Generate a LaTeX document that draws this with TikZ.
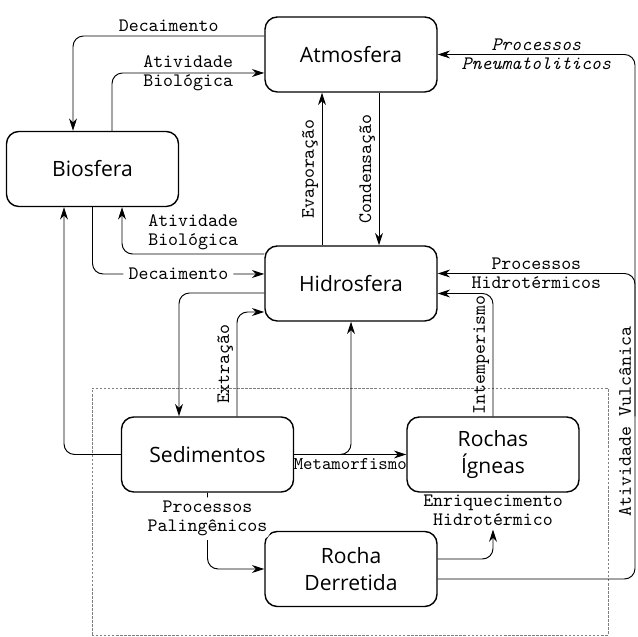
\documentclass[tikz,border=0pt]{standalone}
\usepackage{fontspec}
\setmainfont{Open Sans}
\usetikzlibrary{arrows.meta}
\begin{document}
\begin{tikzpicture}[>={Stealth[length=7pt,width=4.5pt]}, line width=.55pt]
\tikzstyle{caixa}=[draw, line width=.8pt, rounded corners=7pt, minimum width=3.44cm, minimum height=1.5cm, align=center, font=\fontsize{12}{15}\selectfont]
\tikzstyle{rotulo}=[font=\ttfamily\fontsize{10.8}{11}\selectfont, align=center, inner sep=2pt]
\tikzstyle{rotulov}=[rotulo, rotate=90, anchor=south]
\tikzstyle{seta}=[->, rounded corners=6pt]
\useasboundingbox (0,0) rectangle (12.74,12.74);
\draw[gray, line width=.5pt, dash pattern=on 1.5pt off .8pt] (1.84,0.04) rectangle (12.16,4.98);
% reservatorios
\node[caixa] (atm) at (7.02,11.65) {Atmosfera};
\node[caixa] (bio) at (1.85,9.36) {Biosfera};
\node[caixa] (hid) at (7.02,7.07) {Hidrosfera};
\node[caixa] (sed) at (4.15,3.65) {Sedimentos};
\node[caixa] (ign) at (9.86,3.65) {Rochas\\Ígneas};
\node[caixa] (rd) at (7.02,1.36) {Rocha\\Derretida};
% atmosfera e biosfera
\draw[seta] ([yshift=.37cm]atm.west) -| ([xshift=-.39cm]bio.north) node[rotulo, pos=.25, above]{Decaimento};
\draw[seta] ([xshift=.39cm]bio.north) |- ([yshift=-.37cm]atm.west) node[rotulo, pos=.75]{Atividade\\Biológica};
% atmosfera e hidrosfera
\draw[seta] ([xshift=-.58cm]hid.north) -- ([xshift=-.58cm]atm.south) node[rotulov, midway]{Evaporação};
\draw[seta] ([xshift=.56cm]atm.south) -- ([xshift=.56cm]hid.north) node[rotulov, midway]{Condensação};
% biosfera e hidrosfera
\draw[seta] ([yshift=.59cm]hid.west) -| ([xshift=.59cm]bio.south) node[rotulo, pos=.25, above]{Atividade\\Biológica};
\draw[seta] (bio.south) |- ([yshift=.19cm]hid.west) node[rotulo, pos=.75, fill=white, inner xsep=3pt]{Decaimento};
% sedimentos
\draw[seta] (sed.west) -| ([xshift=-.57cm]bio.south);
\draw[seta] ([yshift=-.19cm]hid.west) -| ([xshift=-.57cm]sed.north);
\draw[seta] ([xshift=.59cm]sed.north) |- ([yshift=-.57cm]hid.west) node[rotulov, pos=.25]{Extração};
\draw[seta] (sed.east) -| (hid.south);
\draw[->] (sed.east) -- (ign.west) node[rotulo, midway, below, font=\ttfamily\fontsize{10.2}{11}\selectfont]{Metamorfismo};
\draw[seta] (sed.south) |- (rd.west) node[rotulo, pos=.17, fill=white]{Processos\\Palingênicos};
% rochas
\draw[seta] (ign.north) |- ([yshift=-.2cm]hid.east) node[rotulov, pos=.25]{Intemperismo};
\node[rotulo] (enriq) at (9.86,2.54) {Enriquecimento\\Hidrotérmico};
\draw[seta] ([yshift=.2cm]rd.east) -| (enriq.south);
% atividade vulcanica
\coordinate (vx) at (12.7,0);
\coordinate (hidE) at ([yshift=.2cm]hid.east);
\draw[seta] ([yshift=-.2cm]rd.east) -| (vx |- atm.east) node[rotulov, pos=.65]{Atividade Vulcânica}
  -- (atm.east) node[rotulo, midway, font=\ttfamily\itshape\fontsize{10.8}{11}\selectfont]{Processos\\Pneumatoliticos};
\draw[seta] (vx |- ign.north) -- (vx |- hidE) -- (hidE) node[rotulo, midway]{Processos\\Hidrotérmicos};
\end{tikzpicture}
\end{document}
